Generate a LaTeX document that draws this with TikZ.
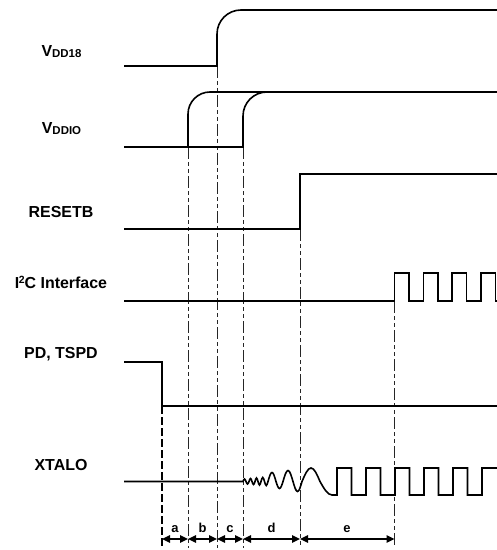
\documentclass[tikz,border=0pt]{standalone}
\usepackage{fontspec}
\setmainfont{Liberation Sans}
\usetikzlibrary{arrows.meta}
\tikzset{
  signal/.style = {line width=1.6bp},
  guide/.style = {line width=1bp, black!85, dash pattern=on 12bp off 3bp on 4bp off 3bp on 4bp off 3bp},
  pdguide/.style = {line width=1.6bp, dash pattern=on 8bp off 3bp},
  sig label/.style = {anchor=base, inner sep=0pt, font=\fontsize{16}{18}\selectfont\bfseries},
  gap arrow/.style = {{Triangle[length=8bp,width=7.5bp]}-{Triangle[length=8bp,width=7.5bp]}, line width=1.4bp},
  gap label/.style = {anchor=base, inner sep=0pt, font=\fontsize{13}{14}\selectfont\bfseries}
}

\begin{document}
\begin{tikzpicture}[x=1bp, y=-1bp]
\useasboundingbox (0,0) rectangle (497,550);

% Signal names
\node[sig label] (vdd18) at (61.5,57) {V\raisebox{-1bp}{\fontsize{11.5}{12}\selectfont DD18}};
\node[sig label] (vddio) at (61.5,134) {V\raisebox{-1bp}{\fontsize{11.5}{12}\selectfont DDIO}};
\node[sig label] (resetb) at (61,218) {RESETB};
\node[sig label] (i2c) at (61,288) {I\kern-0.5bp\raisebox{4.5bp}{\fontsize{10.5}{11}\selectfont 2}C Interface};
\node[sig label] (pd) at (61,358) {PD, TSPD};
\node[sig label] (xtalo) at (61,470) {XTALO};

% Event points on the time scale
\coordinate (ta) at (162,539);
\coordinate (tb) at (188,539);
\coordinate (tc) at (217,539);
\coordinate (td) at (243,539);
\coordinate (te) at (300,539);
\coordinate (tf) at (394.5,539);

% Guide lines
\draw[pdguide] (ta |- 0,406) -- (ta |- 0,548);
\draw[guide] (tb |- 0,147) -- (tb |- 0,548);
\draw[guide] (tc |- 0,66) -- (tc |- 0,548);
\draw[guide] (td |- 0,147) -- (td |- 0,548);
\draw[guide] (te |- 0,229) -- (te |- 0,548);
\draw[guide] (tf |- 0,301) -- (tf |- 0,546);

% VDD18
\draw[signal] (124,66) -- (217,66) -- (217,34)
  .. controls (217,20.75) and (227.75,10) .. (241,10) -- (497,10);

% VDDIO
\draw[signal] (124,147) -- (188,147) -- (188,114)
  .. controls (188,101.9) and (197.9,92) .. (210,92) -- (497,92);
\draw[signal] (188,147) -- (243,147) -- (243,116)
  .. controls (243,102.75) and (253.75,92) .. (267,92);

% RESETB
\draw[signal] (124,229) -- (300,229) -- (300,174) -- (497,174);

% I2C
\draw[signal] (124,301) -- (394.5,301)
  \foreach \k in {1,...,3} { -- ++(0,-28) -- ++(14.4,0) -- ++(0,28) -- ++(14.4,0) }
  -- ++(0,-28) -- ++(14.4,0) -- ++(0,28) -- (497,301);

% PD, TSPD
\draw[signal] (124,362) -- (162,362) -- (162,406) -- (497,406);

% XTALO
\draw[signal] (124,481.5) -- (243,481.5)
  \foreach \w/\a in {3/-2.5, 3/2.5, 3/-3, 3/3, 3/-3.5, 3/3.5, 3.5/-4, 3.5/4,
                     8/-9, 7/7, 10/-11, 9/10, 18/-13.5}
    { sin ++({\w/2},{\a}) cos ++({\w/2},{-(\a)}) }
  sin ++(12,13.5) -- (337,495)
  \foreach \k in {1,...,5} { -- ++(0,-27) -- ++(14.5,0) -- ++(0,27) -- ++(14.5,0) }
  -- ++(0,-27) -- (497,468);

% Intervals
\draw[gap arrow] (ta) -- (tb);
\draw[gap arrow] (tb) -- (tc);
\draw[gap arrow] (tc) -- (td);
\draw[gap arrow] (td) -- (te);
\draw[gap arrow] (te) -- (tf);
\node[gap label] (la) at (175,532) {a};
\node[gap label] (lb) at (202.5,532) {b};
\node[gap label] (lc) at (230,532) {c};
\node[gap label] (ld) at (271.5,532) {d};
\node[gap label] (le) at (347,532) {e};

\end{tikzpicture}
\end{document}
